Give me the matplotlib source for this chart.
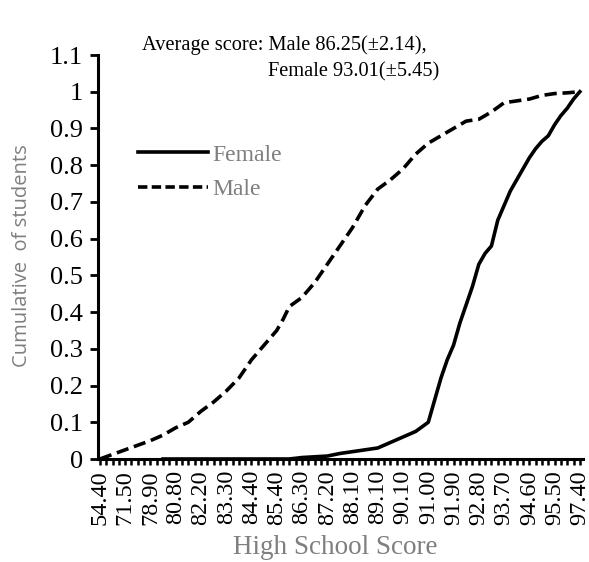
import numpy as np
import matplotlib
matplotlib.use("Agg")
import matplotlib.pyplot as plt
from matplotlib.lines import Line2D

# ---- data ----
x_labels = ["54.40", "71.50", "78.90", "80.80", "82.20", "83.30", "84.40", "85.40",
            "86.30", "87.20", "88.10", "89.10", "90.10", "91.00", "91.90", "92.80",
            "93.70", "94.60", "95.50", "97.40"]
cats_per_label = 4  # categories between two labelled ticks

male_idx = [0, 4, 8, 10, 12, 14, 16, 18, 20, 22, 24, 26, 28, 29, 30, 32, 34, 36, 38,
            40, 42, 44, 46, 48, 50, 52, 54, 56, 58, 60, 62, 64, 66, 68, 70, 72, 74, 76]
male_val = [0.0, 0.025, 0.05, 0.065, 0.085, 0.10, 0.13, 0.155, 0.185, 0.22, 0.27, 0.31,
            0.35, 0.38, 0.415, 0.44, 0.48, 0.53, 0.58, 0.63, 0.69, 0.735, 0.76, 0.79,
            0.83, 0.86, 0.88, 0.90, 0.92, 0.925, 0.945, 0.97, 0.975, 0.98, 0.99, 0.995,
            0.997, 1.0]

female_idx = [10, 20, 30, 32, 36, 38, 40, 42, 44, 46, 48, 50, 52, 53, 54, 55, 56, 57,
              58, 59, 60, 61, 62, 63, 64, 65, 66, 67, 68, 69, 70, 71, 72, 73, 74, 75, 76]
female_val = [0.0, 0.0, 0.0, 0.004, 0.008, 0.015, 0.02, 0.025, 0.03, 0.045, 0.06, 0.075,
              0.10, 0.16, 0.22, 0.27, 0.31, 0.37, 0.42, 0.47, 0.53, 0.56, 0.58, 0.65,
              0.69, 0.73, 0.76, 0.79, 0.82, 0.845, 0.865, 0.88, 0.91, 0.935, 0.955,
              0.98, 1.0]

y_ticks = [0, 0.1, 0.2, 0.3, 0.4, 0.5, 0.6, 0.7, 0.8, 0.9, 1, 1.1]
y_ticklabels = ["0", "0.1", "0.2", "0.3", "0.4", "0.5", "0.6", "0.7", "0.8", "0.9", "1", "1.1"]

# ---- figure ----
W, H = 589, 562
fig = plt.figure(figsize=(W / 100, H / 100), dpi=100)
ax_left, ax_right, ax_bottom, ax_top = 98, 583, 459, 55
ax = fig.add_axes([ax_left / W, 1 - ax_bottom / H, (ax_right - ax_left) / W,
                   (ax_bottom - ax_top) / H])

serif = "Liberation Serif"
gray = "#7f7f7f"

n_cats = (len(x_labels) - 1) * cats_per_label
ax.plot(female_idx, female_val, color="black", lw=2.6, solid_joinstyle="round")
ax.plot(male_idx, male_val, color="black", lw=2.6, ls=(0, (3.4, 1.6)))

ax.set_xlim(-0.3, n_cats + 0.5)
ax.set_ylim(0, 1.1)

for s in ["top", "right"]:
    ax.spines[s].set_visible(False)
for s in ["left", "bottom"]:
    ax.spines[s].set_linewidth(2.2)
    ax.spines[s].set_color("black")

label_pos = np.arange(len(x_labels)) * cats_per_label
ax.set_xticks(label_pos)
ax.set_xticklabels(x_labels, rotation=90, fontfamily=serif, fontsize=17.5)
ax.set_xticks(np.arange(n_cats + 1), minor=True)
ax.tick_params(axis="x", which="both", direction="out", length=4.5, width=1.8, pad=3.5)

ax.set_yticks(y_ticks)
ax.set_yticklabels(y_ticklabels, fontfamily=serif, fontsize=19)
ax.tick_params(axis="y", direction="out", length=6, width=2, pad=5)

ax.set_xlabel("High School Score", fontfamily=serif, fontsize=19.5, color=gray)
ax.xaxis.set_label_coords((335 - ax_left) / (ax_right - ax_left),
                          (ax_bottom - 548) / (ax_bottom - ax_top))
ax.xaxis.label.set_va("center")
ax.set_ylabel("Cumulative  of students", fontfamily="Open Sans", fontsize=14.5,
              color=gray)
ax.yaxis.set_label_coords((22 - ax_left) / (ax_right - ax_left),
                          (ax_bottom - 256) / (ax_bottom - ax_top))
ax.yaxis.label.set_va("center")

fig.text(142 / W, 1 - 45 / H, "Average score: Male 86.25(\u00b12.14),", fontfamily=serif,
         fontsize=14.7, color="black", ha="left", va="center")
fig.text(268 / W, 1 - 72 / H, "Female 93.01(\u00b15.45)", fontfamily=serif,
         fontsize=14.7, color="black", ha="left", va="center")

handles = [Line2D([], [], color="black", lw=2.6),
           Line2D([], [], color="black", lw=2.6, ls=(0, (2.6, 1.2)))]
leg = ax.legend(handles, ["Female", "Male"], loc="center left",
                bbox_to_anchor=(138 / W, 1 - 172 / H), bbox_transform=fig.transFigure,
                frameon=False, borderpad=0, borderaxespad=0, handlelength=2.95,
                handletextpad=0.2, labelspacing=0.55,
                prop={"family": serif, "size": 17})
for t in leg.get_texts():
    t.set_color(gray)

fig.savefig("out.png", dpi=100)
